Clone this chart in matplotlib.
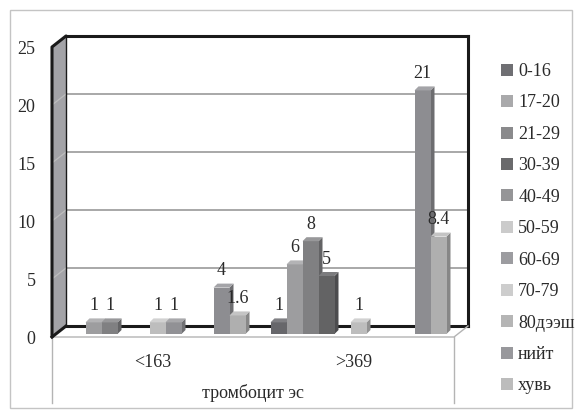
import matplotlib
matplotlib.use('Agg')
import matplotlib.pyplot as plt
from matplotlib.patches import Polygon, Rectangle, Patch
from matplotlib.transforms import ScaledTranslation

# өгөгдөл
categories = ['<163', '>369']
series_names = ['0-16', '17-20', '21-29', '30-39', '40-49', '50-59',
                '60-69', '70-79', '80дээш', 'нийт', 'хувь']
values_low = [0, 1, 1, 0, 0, 1, 1, 0, 0, 4, 1.6]
values_high = [1, 6, 8, 5, 0, 1, 0, 0, 0, 21, 8.4]
series_colors = ['#6f6f73', '#a9a9ab', '#8a8a8c', '#6a6a6c', '#959597', '#cbcbcb',
                 '#9c9ca0', '#cdcdcd', '#b5b5b5', '#98989c', '#bcbcbc']
y_ticks = [0, 5, 10, 15, 20, 25]
axis_title = 'тромбоцит эс'

plt.rcParams['font.family'] = ['Liberation Serif', 'DejaVu Serif']
txt_color = '#2a2a2a'
fs = 13

fig = plt.figure(figsize=(5.76, 4.15), dpi=100)
W, H = 576, 415
# арын хана
ax = fig.add_axes([66 / W, (H - 326) / H, 402 / W, 290 / H])
ax.set_xlim(-0.5, 1.5)
ax.set_ylim(0, 25)
ux = 2 / 402      # нэг пикселийн x
uy = 25 / 290     # нэг пикселийн y


def off(dx, dy):
    return dx * ux, -dy * uy


wall_dx, wall_dy = off(-14, 11)
front_dx, front_dy = off(-9, 8)
back_dx, back_dy = off(-5, 4)
slot = 16 * ux

# гадна хүрээ
fig.patches.append(Rectangle((10 / W, 7 / H), 562 / W, 398 / H, transform=fig.transFigure,
                             fill=False, ec='#c4c4c4', lw=1))

# хэвтээ сүлжээ
for v in y_ticks[1:-1]:
    ax.axhline(v, color='#a8a8a8', lw=1.4, zorder=1)

for s in ax.spines.values():
    s.set_color('#1a1a1a')
    s.set_linewidth(2.2)
ax.spines['left'].set_linewidth(1.0)

# зүүн хана
x0 = -0.5
ax.add_patch(Polygon([(x0, 0), (x0, 25), (x0 + wall_dx, 25 + wall_dy), (x0 + wall_dx, wall_dy)],
                     closed=True, fc='#a3a3a7', ec='none', clip_on=False, zorder=2))
for v in y_ticks[1:-1]:
    ax.plot([x0, x0 + wall_dx], [v, v + wall_dy], color='#bdbdbd', lw=0.9, clip_on=False, zorder=2)
ax.plot([x0 + wall_dx, x0 + wall_dx, x0, x0 + 0.001], [wall_dy, 25 + wall_dy, 25, 25],
        color='#1a1a1a', lw=2.2, clip_on=False, zorder=4, solid_capstyle='round')
ax.plot([x0 + wall_dx, x0], [wall_dy, 0], color='#1a1a1a', lw=2.2, clip_on=False, zorder=4)

# шал
x1 = 1.5
ax.add_patch(Polygon([(x0, 0), (x1, 0), (x1 + wall_dx, wall_dy), (x0 + wall_dx, wall_dy)],
                     closed=True, fc='white', ec='none', clip_on=False, zorder=1.5))
ax.plot([x0 + wall_dx, x1 + wall_dx, x1], [wall_dy, wall_dy, 0], color='#b4b4b4', lw=1.0,
        clip_on=False, zorder=2.6)
# ангиллын тэнхлэгийн босоо шугам
_, drop = off(0, 66)
for xx in (x0 + wall_dx, x1 + wall_dx):
    ax.plot([xx, xx], [wall_dy, wall_dy + drop], color='#b4b4b4', lw=1.0, clip_on=False, zorder=2)


def lighten(c, f):
    r, g, b = matplotlib.colors.to_rgb(c)
    return (r + (1 - r) * f, g + (1 - g) * f, b + (1 - b) * f)


def darken(c, f):
    r, g, b = matplotlib.colors.to_rgb(c)
    return (r * f, g * f, b * f)


def bar3d(xc, v, color):
    xl = xc - slot / 2
    xr = xc + slot / 2
    front = [(xl + front_dx, front_dy), (xr + front_dx, front_dy),
             (xr + front_dx, v + front_dy), (xl + front_dx, v + front_dy)]
    side = [(xr + front_dx, front_dy), (xr + back_dx, back_dy),
            (xr + back_dx, v + back_dy), (xr + front_dx, v + front_dy)]
    top = [(xl + front_dx, v + front_dy), (xr + front_dx, v + front_dy),
           (xr + back_dx, v + back_dy), (xl + back_dx, v + back_dy)]
    kw = dict(closed=True, ec='none', clip_on=False, zorder=3)
    ax.add_patch(Polygon(side, fc=darken(color, 0.72), **kw))
    ax.add_patch(Polygon(front, fc=darken(color, 0.93), **kw))
    ax.add_patch(Polygon(top, fc=lighten(color, 0.12), **kw))


_, lab_dy = off(0, -17)
for ci, vals in enumerate([values_low, values_high]):
    for k, v in enumerate(vals):
        if v == 0:
            continue
        xc = ci + (k - 5) * slot
        bar3d(xc, v, series_colors[k])
        ax.text(xc + front_dx, v + front_dy + lab_dy, f'{v:g}', ha='center', va='center',
                fontsize=fs, color=txt_color, zorder=5, clip_on=False)

# y тэнхлэг
ax.set_xticks([])
ax.set_yticks(y_ticks)
ax.tick_params(axis='y', length=0, pad=22, labelsize=fs, labelcolor=txt_color)
for lbl in ax.get_yticklabels():
    lbl.set_transform(lbl.get_transform() + ScaledTranslation(0, -11 / 100, fig.dpi_scale_trans))

# ангиллын нэрс
_, cat_dy = off(0, 25)
for ci, name in enumerate(categories):
    ax.text(ci + wall_dx, wall_dy + cat_dy, name, ha='center', va='center', fontsize=fs,
            color=txt_color, clip_on=False)
_, title_dy = off(0, 56)
ax.text(0.5 + wall_dx, wall_dy + title_dy, axis_title, ha='center', va='center', fontsize=fs,
        color=txt_color, clip_on=False)

handles = [Patch(fc=c, ec='none') for c in series_colors]
fig.legend(handles, series_names, loc='upper left', bbox_to_anchor=(501 / W, 1 - 63 / H),
           frameon=False, fontsize=fs, handlelength=0.65, handleheight=0.65,
           handletextpad=0.3, labelspacing=0.8, borderpad=0, borderaxespad=0,
           labelcolor=txt_color)

fig.savefig('out.png', dpi=100)
